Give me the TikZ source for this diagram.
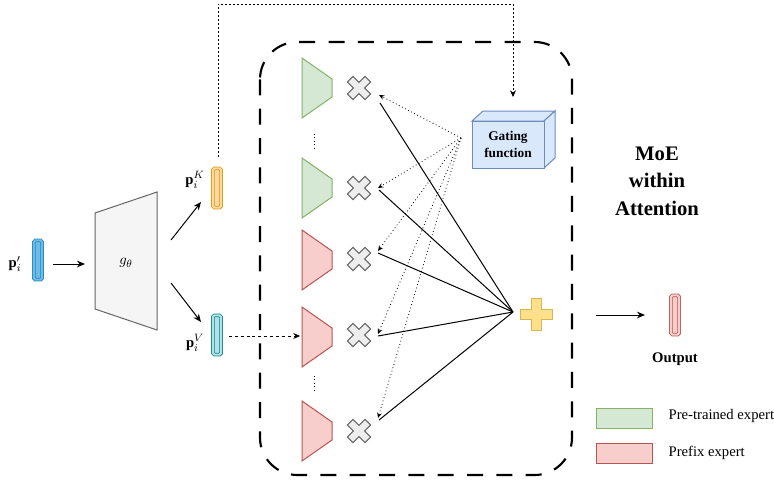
\documentclass[tikz,border=0pt]{standalone}
\usepackage{fontspec}
\setmainfont{Liberation Serif}
\usepackage{amsmath}
\usetikzlibrary{arrows.meta}
\definecolor{gfill}{HTML}{D5E8D4}\definecolor{gline}{HTML}{82B366}
\definecolor{rfill}{HTML}{F8CECC}\definecolor{rline}{HTML}{B85450}
\definecolor{bfill}{HTML}{DAE8FC}\definecolor{bline}{HTML}{6C8EBF}
\definecolor{pbfill}{HTML}{6BBCE6}\definecolor{pbline}{HTML}{2A83B8}
\definecolor{pofill}{HTML}{FFD7A3}\definecolor{poline}{HTML}{D79B00}
\definecolor{pcfill}{HTML}{B0E3E6}\definecolor{pcline}{HTML}{0E8088}
\definecolor{yfill}{HTML}{FFE08A}\definecolor{yline}{HTML}{D6B656}
\definecolor{grayfill}{HTML}{F5F5F5}\definecolor{grayline}{HTML}{666666}
\definecolor{crossfill}{HTML}{EEEEEE}
\begin{document}
\begin{tikzpicture}[x=0.75pt,y=-0.75pt,
  bar/.style={rounded corners=1.2pt, line width=0.55pt, minimum width=6.2pt, minimum height=29.5pt, inner sep=0pt, double distance=1.6pt},
  arr/.style={-{Stealth[length=6pt,width=5pt]}, line width=0.75pt},
  gatearr/.style={-{Stealth[length=4pt,width=3.5pt]}, line width=0.6pt, dotted},
  solidln/.style={line width=0.75pt},
  trapg/.style={fill=gfill, draw=gline, line width=0.75pt},
  trapr/.style={fill=rfill, draw=rline, line width=0.75pt},
  crossst/.style={fill=crossfill, draw=grayline, line width=0.75pt},
  lbl/.style={font=\fontsize{11}{12}\selectfont, inner sep=1pt},
  blbl/.style={font=\fontsize{11}{12}\selectfont\bfseries, inner sep=1pt, align=center},
  xmark/.pic={\draw[crossst, rotate=45] (4,4) -- (4,12.5) -- (-4,12.5) -- (-4,4) -- (-12.5,4) -- (-12.5,-4) -- (-4,-4) -- (-4,-12.5) -- (4,-12.5) -- (4,-4) -- (12.5,-4) -- (12.5,4) -- cycle;}
]
\useasboundingbox (0,0) rectangle (774,482);

% big dashed container
\draw[line width=1.6pt, dash pattern=on 12pt off 10pt, rounded corners=28pt] (260,42) rectangle (572,475);

% input bar
\node[bar, fill=pbfill, draw=pbline, double=pbfill] (pin) at (38,260) {};
\node[lbl] (pinl) at (15,264) {$\mathbf{p}_i'$};

% g_theta
\draw[fill=grayfill, draw=grayline, line width=0.75pt] (95,213) -- (157,192) -- (157,330) -- (95,309) -- cycle;
\node[lbl] (g) at (126,263) {$g_\theta$};
\coordinate (gin) at (85,264);
\draw[arr] (53,264) -- (gin);

% K and V bars
\node[bar, fill=pofill, draw=poline, double=pofill] (pk) at (217,188) {};
\node[lbl] (pkl) at (195,180) {$\mathbf{p}_i^K$};
\node[bar, fill=pcfill, draw=pcline, double=pcfill] (pv) at (217,335) {};
\node[lbl] (pvl) at (195,343) {$\mathbf{p}_i^V$};
\coordinate (ga) at (171,240); \coordinate (gb) at (171,283);
\draw[arr] (ga) -- (201,202);
\draw[arr] (gb) -- (201,322);

% experts
\draw[trapg] (302,58) -- (332,79) -- (332,97) -- (302,118) -- cycle;
\draw[trapg] (302,158) -- (332,179) -- (332,197) -- (302,218) -- cycle;
\draw[trapr] (302,230) -- (332,251) -- (332,269) -- (302,290) -- cycle;
\draw[trapr] (302,307) -- (332,328) -- (332,346) -- (302,367) -- cycle;
\draw[trapr] (302,401) -- (332,422) -- (332,440) -- (302,461) -- cycle;
\draw[line width=0.6pt, dotted] (314,134) -- (314,148);
\draw[line width=0.6pt, dotted] (314,376) -- (314,392);

% dashed from V to expert
\coordinate (e4) at (300,336);
\draw[-{Stealth[length=5pt,width=4.5pt]}, line width=0.6pt, dash pattern=on 2.2pt off 2.2pt] (229,336) -- (e4);

% crosses
\pic at (359,88) {xmark};
\pic at (359,188) {xmark};
\pic at (359,259) {xmark};
\pic at (359,335) {xmark};
\pic at (359,431) {xmark};

% gating cube
\draw[fill=bfill, draw=bline, line width=0.75pt] (472,121) -- (483,111) -- (555,111) -- (544,121) -- cycle;
\draw[fill=bfill, draw=bline, line width=0.75pt] (544,121) -- (555,111) -- (555,158) -- (544,168) -- cycle;
\node[fill=bfill, draw=bline, line width=0.75pt, minimum width=54pt, minimum height=35.25pt, inner sep=0pt, blbl, font=\fontsize{10}{12.5}\selectfont\bfseries] (gate) at (508,144.5) {Gating\\function};

% dotted feedback from K to gating
\coordinate (k1) at (218,157);
\coordinate (k2) at (218,4);
\coordinate (k3) at (513,4);
\coordinate (gtop) at (513,97);
\draw[line width=0.6pt, dash pattern=on 1.5pt off 1.5pt, -{Stealth[length=5pt,width=4.5pt]}] (k1) -- (k2) -- (k3) -- (gtop);

% gating to crosses
\coordinate (G) at (461,138);
\coordinate (t1) at (379,95);
\coordinate (t2) at (378,188);
\coordinate (t3) at (378,251);
\coordinate (t4) at (378,334);
\coordinate (t5) at (378,418);
\foreach \t in {t1,t2,t3,t4,t5} \draw[gatearr] (G) -- (\t);

% crosses to sum
\coordinate (P) at (513,312);
\coordinate (s1) at (380,103);
\coordinate (s2) at (379,190);
\coordinate (s3) at (378,253);
\coordinate (s4) at (378,336);
\coordinate (s5) at (379,420);
\foreach \s in {s1,s2,s3,s4,s5} \draw[solidln] (P) -- (\s);

% plus
\draw[fill=yfill, draw=yline, line width=0.75pt] (531,298) -- (541,298) -- (541,309) -- (552,309) -- (552,319) -- (541,319) -- (541,330) -- (531,330) -- (531,319) -- (520,319) -- (520,309) -- (531,309) -- cycle;

% output
\coordinate (oa) at (596,315);
\node[bar, fill=rfill, draw=rline, double=rfill] (out) at (675,315) {};
\draw[arr] (oa) -- (645,315);
\node[blbl] (outl) at (675,359) {Output};

% title
\node[font=\fontsize{15.5}{20.5}\selectfont\bfseries, align=center] (title) at (657,181) {MoE\\within\\Attention};

% legend
\node[fill=gfill, draw=gline, line width=0.75pt, minimum width=42pt, minimum height=15.5pt, inner sep=0pt] (lg) at (624,418.5) {};
\node[fill=rfill, draw=rline, line width=0.75pt, minimum width=42pt, minimum height=15.5pt, inner sep=0pt] (lr) at (624,453.5) {};
\node[lbl, anchor=west] (lgt) at (667,416) {Pre-trained expert};
\node[lbl, anchor=west] (lrt) at (667,453) {Prefix expert};
\end{tikzpicture}
\end{document}
